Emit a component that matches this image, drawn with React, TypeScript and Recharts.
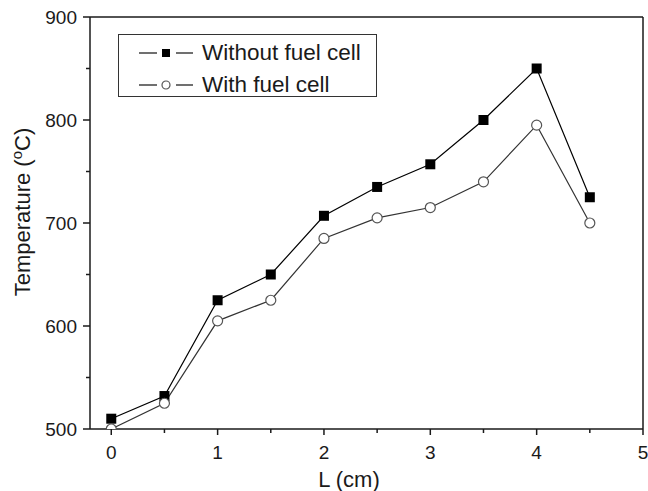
import { LineChart, Line, XAxis, YAxis, ReferenceLine, Legend } from "recharts";

const lengths = [0, 0.5, 1, 1.5, 2, 2.5, 3, 3.5, 4, 4.5];
const withoutFuelCell = [510, 532, 625, 650, 707, 735, 757, 800, 850, 725];
const withFuelCell = [500, 525, 605, 625, 685, 705, 715, 740, 795, 700];
const xTicks = [0, 0.5, 1, 1.5, 2, 2.5, 3, 3.5, 4, 4.5, 5];
const yTicks = [500, 550, 600, 650, 700, 750, 800, 850, 900];

const data = lengths.map((l, i) => ({ l, without: withoutFuelCell[i], with: withFuelCell[i] }));

const font = "'Liberation Sans', Arial, sans-serif";
const ink = "#1a1a1a";

function XTick({ x, y, payload }: any) {
  const major = Number.isInteger(payload.value);
  return (
    <g>
      <line x1={x} x2={x} y1={y} y2={y + (major ? 6 : 4)} stroke={ink} strokeWidth={1.5} />
      {major && (
        <text x={x} y={y + 30} textAnchor="middle" fontSize={19} fontFamily={font} fill={ink}>
          {payload.value}
        </text>
      )}
    </g>
  );
}

function YTick({ x, y, payload }: any) {
  const major = payload.value % 100 === 0;
  return (
    <g>
      <line x1={x - (major ? 7 : 4)} x2={x} y1={y} y2={y} stroke={ink} strokeWidth={1.5} />
      {major && (
        <text x={x - 13} y={y + 7} textAnchor="end" fontSize={19} fontFamily={font} fill={ink}>
          {payload.value}
        </text>
      )}
    </g>
  );
}

function Square({ cx, cy }: any) {
  return <rect x={cx - 5} y={cy - 5} width={10} height={10} fill="#000" />;
}

function Circle({ cx, cy }: any) {
  return <circle cx={cx} cy={cy} r={5} fill="#fff" stroke="#555" strokeWidth={1.2} />;
}

function LegendBox() {
  const rows = [
    { label: "Without fuel cell", marker: <rect x={23} y={-4} width={8} height={8} fill="#000" /> },
    { label: "With fuel cell", marker: <circle cx={27} cy={0} r={4} fill="#fff" stroke="#555" strokeWidth={1.2} /> },
  ];
  return (
    <div
      style={{
        width: 257,
        height: 61,
        border: "1.5px solid #333",
        background: "#fff",
        fontFamily: font,
        fontSize: 22.5,
        color: ink,
        boxSizing: "content-box",
      }}
    >
      {rows.map((r, i) => (
        <div key={r.label} style={{ display: "flex", alignItems: "center", height: 24, marginTop: i === 0 ? 6 : 8, marginLeft: 19 }}>
          <svg width={56} height={24} style={{ overflow: "visible" }}>
            <g transform="translate(1,12)">
              <line x1={0} x2={18} y1={0} y2={0} stroke="#222" strokeWidth={1.3} />
              <line x1={37} x2={54} y1={0} y2={0} stroke="#222" strokeWidth={1.3} />
              {r.marker}
            </g>
          </svg>
          <span style={{ marginLeft: 8, lineHeight: "24px" }}>{r.label}</span>
        </div>
      ))}
    </div>
  );
}

export default function App() {
  return (
    <div style={{ position: "absolute", left: 0, top: 0, background: "#fff" }}>
      <LineChart width={648} height={491} data={data} margin={{ top: 17, right: 5, bottom: 0, left: 0 }}>
        <XAxis
          dataKey="l"
          type="number"
          domain={[-0.2, 5]}
          ticks={xTicks}
          allowDataOverflow
          height={62}
          tickSize={0}
          tickMargin={0}
          tickLine={false}
          tick={<XTick />}
          axisLine={{ stroke: ink, strokeWidth: 1.5 }}
          interval={0}
          label={{
            content: () => (
              <text x={349} y={487} textAnchor="middle" fontSize={22} fontFamily={font} fill={ink}>
                L (cm)
              </text>
            ),
          }}
        />
        <YAxis
          type="number"
          domain={[500, 900]}
          ticks={yTicks}
          allowDataOverflow
          width={90}
          tickSize={0}
          tickMargin={0}
          tickLine={false}
          tick={<YTick />}
          axisLine={{ stroke: ink, strokeWidth: 1.5 }}
          interval={0}
          label={{
            content: () => (
              <text transform="translate(30,212) rotate(-90)" textAnchor="middle" fontSize={22} fontFamily={font} fill={ink}>
                Temperature (
                <tspan fontSize={15} dy={-8}>o</tspan>
                <tspan dy={8}>C)</tspan>
              </text>
            ),
          }}
        />
        <ReferenceLine y={900} stroke={ink} strokeWidth={1.5} />
        <ReferenceLine x={5} stroke={ink} strokeWidth={1.5} />
        <Legend
          layout="horizontal"
          verticalAlign="middle"
          align="center"
          content={() => <LegendBox />}
          wrapperStyle={{ position: "absolute", left: 118, top: 34, width: "auto" }}
        />
        <Line
          name="Without fuel cell"
          dataKey="without"
          stroke="#000"
          strokeWidth={1.2}
          dot={<Square />}
          activeDot={false}
          isAnimationActive={false}
        />
        <Line
          name="With fuel cell"
          dataKey="with"
          stroke="#333"
          strokeWidth={1.2}
          dot={<Circle />}
          activeDot={false}
          isAnimationActive={false}
        />
      </LineChart>
    </div>
  );
}
